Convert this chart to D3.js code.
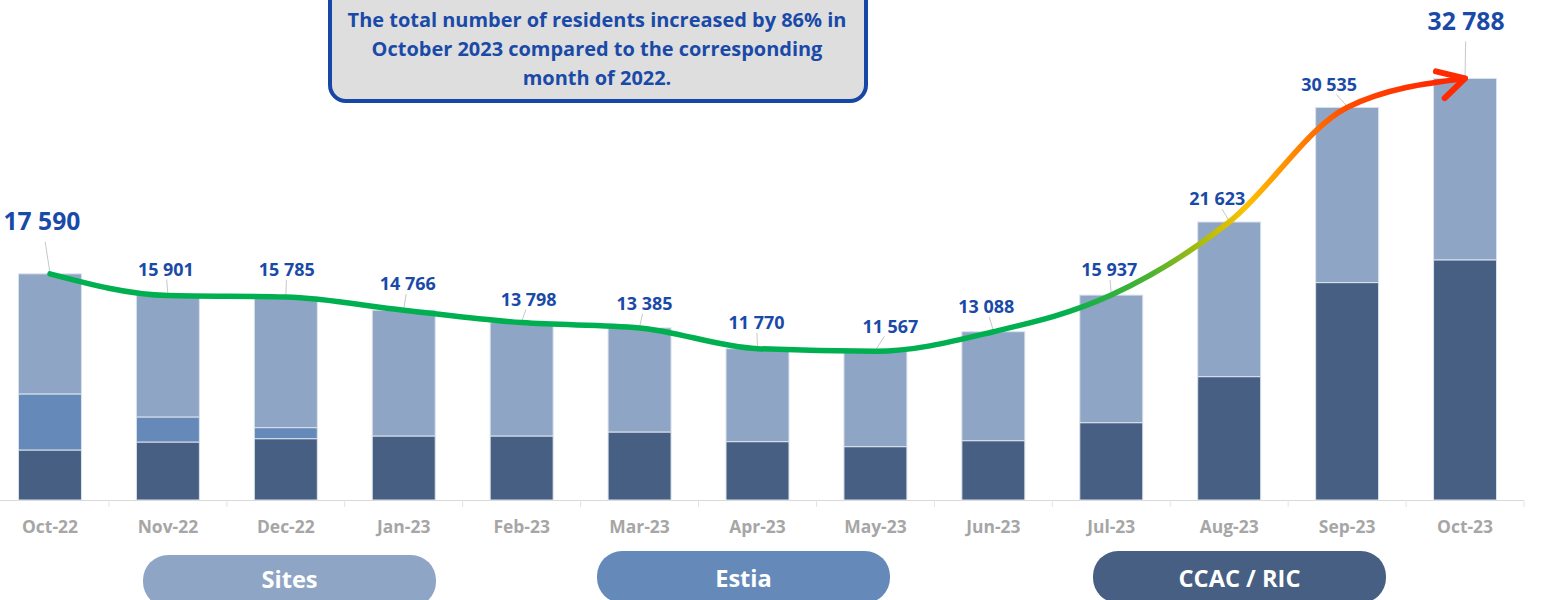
<!DOCTYPE html>
<html>
<head>
<meta charset="utf-8">
<script src="https://cdn.jsdelivr.net/npm/d3@7"></script>
<style>
  html, body { margin: 0; padding: 0; background: #fff; }
  svg { display: block; font-family: "Open Sans", Lato, sans-serif; }
</style>
</head>
<body>
<svg id="chart"></svg>
<script>
// months on the x axis
const months = ["Oct-22", "Nov-22", "Dec-22", "Jan-23", "Feb-23", "Mar-23", "Apr-23",
                "May-23", "Jun-23", "Jul-23", "Aug-23", "Sep-23", "Oct-23"];
// residents per accommodation type
const ccac  = [3890, 4510, 4770, 4980, 4980, 5290, 4540, 4150, 4615, 6015, 9595, 16910, 18680];
const estia = [4360, 1950, 860, 0, 0, 0, 0, 0, 0, 0, 0, 0, 0];
const sites = [9340, 9441, 10155, 9786, 8818, 8095, 7230, 7417, 8473, 9922, 12028, 13625, 14108];
// printed totals
const totals = [17590, 15901, 15785, 14766, 13798, 13385, 11770, 11567, 13088, 15937, 21623, 30535, 32788];
const legendNames = ["Sites", "Estia", "CCAC / RIC"];
const noteLines = ["The total number of residents increased by 86% in",
                   "October 2023 compared to the corresponding",
                   "month of 2022."];

// scale a text selection's font so that its widest item reaches the wanted width
function fitFont(sel, base, wanted) {
    let w = 0;
    sel.attr("font-size", base).each(function() { w = Math.max(w, this.getComputedTextLength()); });
    sel.attr("font-size", base * wanted / w);
}

function main() {
    const width = 1542;
    const height = 600;
    const baseY = 500;

    const colors = { sites: "#8fa5c5", estia: "#6589b9", ccac: "#465f82" };
    const labelBlue = "#1a4aa8";

    // where each total label sits relative to the bar top
    const labelOffset = [[-8, -52], [-2, -26], [1, -27], [4, -26], [7, -23], [5, -24], [-1, -26],
                         [15, -25], [-7, -25], [-2, -25], [-12, -23], [-18, -23], [1, -57]];

    const svg = d3.select("#chart")
        .attr("width", width)
        .attr("height", height);

    const x = d3.scaleBand()
        .domain(months)
        .range([-9, 1524])
        .paddingInner(0.466)
        .paddingOuter(0.233);

    const y = d3.scaleLinear()
        .domain([0, 35000])
        .range([baseY, 50]);

    const rows = months.map((m, i) => ({ month: m, ccac: ccac[i], estia: estia[i], sites: sites[i] }));
    const keys = ["ccac", "estia", "sites"];
    const series = d3.stack().keys(keys)(rows);

    // axis line + ticks between categories
    svg.append("line")
        .attr("x1", 0).attr("x2", 1524)
        .attr("y1", baseY + 0.5).attr("y2", baseY + 0.5)
        .attr("stroke", "#d9d9d9");
    const step = x.step();
    svg.append("g")
        .selectAll("line")
        .data(d3.range(1, months.length + 1))
        .join("line")
        .attr("x1", i => -9 + step * i).attr("x2", i => -9 + step * i)
        .attr("y1", baseY).attr("y2", baseY + 7)
        .attr("stroke", "#e3e3e3");

    // stacked bars
    svg.append("g")
        .selectAll("g")
        .data(series)
        .join("g")
        .attr("fill", d => colors[d.key])
        .selectAll("rect")
        .data(d => d)
        .join("rect")
        .attr("x", d => x(d.data.month))
        .attr("width", x.bandwidth())
        .attr("y", d => y(d[1]))
        .attr("height", d => y(d[0]) - y(d[1]))
        .attr("stroke", d => (d[1] - d[0]) > 0 ? "#dbe2ec" : "none")
        .attr("stroke-width", 1);

    // month labels
    const monthText = svg.append("g")
        .selectAll("text")
        .data(months)
        .join("text")
        .attr("x", d => x(d) + x.bandwidth() / 2)
        .attr("y", 533)
        .attr("text-anchor", "middle")
        .attr("font-weight", 700)
        .attr("fill", "#a6a6a6")
        .text(d => d);
    fitFont(monthText.filter((d, i) => i == 0), 16, 56);
    monthText.attr("font-size", monthText.filter((d, i) => i == 0).attr("font-size"));

    // gradient for the trend curve
    const defs = svg.append("defs");
    const grad = defs.append("linearGradient")
        .attr("id", "trend")
        .attr("gradientUnits", "userSpaceOnUse")
        .attr("x1", 0).attr("x2", width).attr("y1", 0).attr("y2", 0);
    [[1060, "#00b050"], [1150, "#4cb232"], [1215, "#c4bf05"], [1245, "#ffc000"],
     [1290, "#ff8c00"], [1345, "#ff4d00"], [1430, "#ff2a00"]]
        .forEach(s => grad.append("stop")
            .attr("offset", s[0] / width)
            .attr("stop-color", s[1]));

    defs.append("marker")
        .attr("id", "arrow")
        .attr("markerUnits", "userSpaceOnUse")
        .attr("viewBox", "-34 -22 44 44")
        .attr("refX", 0).attr("refY", 0)
        .attr("markerWidth", 44).attr("markerHeight", 44)
        .attr("orient", -12)
        .append("path")
        .attr("d", "M-27,-13 L0,0 L-24,15")
        .attr("fill", "none")
        .attr("stroke", "#ff2a00")
        .attr("stroke-width", 6)
        .attr("stroke-linecap", "round")
        .attr("stroke-linejoin", "round");

    const line = d3.line()
        .x((d, i) => x(months[i]) + x.bandwidth() / 2)
        .y(d => y(d))
        .curve(d3.curveMonotoneX);

    // leader lines (drawn under the curve)
    svg.append("g")
        .selectAll("line")
        .data(totals)
        .join("line")
        .attr("x1", (d, i) => x(months[i]) + x.bandwidth() / 2 + labelOffset[i][0] * 0.6)
        .attr("y1", (d, i) => y(d) + labelOffset[i][1] + (i == 0 || i == 12 ? 20 : 10))
        .attr("x2", (d, i) => x(months[i]) + x.bandwidth() / 2)
        .attr("y2", d => y(d) - 1)
        .attr("stroke", "#c8c8c8")
        .attr("stroke-width", 1);

    svg.append("path")
        .datum(totals)
        .attr("d", line)
        .attr("fill", "none")
        .attr("stroke", "url(#trend)")
        .attr("stroke-width", 5.5)
        .attr("stroke-linecap", "round")
        .attr("marker-end", "url(#arrow)");

    // total labels
    const fmt = v => d3.format(",")(v).replace(/,/g, " ");
    const totalText = svg.append("g")
        .selectAll("text")
        .data(totals)
        .join("text")
        .attr("x", (d, i) => x(months[i]) + x.bandwidth() / 2 + labelOffset[i][0])
        .attr("y", (d, i) => y(d) + labelOffset[i][1])
        .attr("dy", "0.35em")
        .attr("text-anchor", "middle")
        .attr("font-weight", 700)
        .attr("fill", labelBlue)
        .text(d => fmt(d));
    const small = totalText.filter((d, i) => i > 0 && i < 12);
    fitFont(totalText.filter((d, i) => i == 1), 17, 56);
    small.attr("font-size", totalText.filter((d, i) => i == 1).attr("font-size"));
    fitFont(totalText.filter((d, i) => i == 0), 24, 77);
    totalText.filter((d, i) => i == 12).attr("font-size", totalText.filter((d, i) => i == 0).attr("font-size"));

    // note box
    const note = svg.append("g");
    note.append("rect")
        .attr("x", 330).attr("y", -30)
        .attr("width", 536).attr("height", 131)
        .attr("rx", 16)
        .attr("fill", "#dedede")
        .attr("stroke", "#1747a6")
        .attr("stroke-width", 4);
    const noteText = note.selectAll("text")
        .data(noteLines)
        .join("text")
        .attr("x", 597)
        .attr("y", (d, i) => 27 + i * 29)
        .attr("text-anchor", "middle")
        .attr("font-weight", 700)
        .attr("fill", labelBlue)
        .text(d => d);
    fitFont(noteText, 18, 499);

    // legend pills
    const pillX = [143, 597, 1093];
    const pillFill = [colors.sites, colors.estia, colors.ccac];
    const pills = svg.append("g")
        .selectAll("g")
        .data(legendNames)
        .join("g")
        .attr("transform", (d, i) => `translate(${pillX[i]}, ${i == 0 ? 555 : 551})`);
    pills.append("rect")
        .attr("width", 293).attr("height", 52)
        .attr("rx", 25)
        .attr("fill", (d, i) => pillFill[i]);
    const pillText = pills.append("text")
        .attr("x", 146.5)
        .attr("y", (d, i) => i == 0 ? 25 : 28)
        .attr("dy", "0.35em")
        .attr("text-anchor", "middle")
        .attr("font-weight", 700)
        .attr("fill", "#ffffff")
        .text(d => d);
    fitFont(pillText, 21, 122);
}

main();
</script>
</body>
</html>
